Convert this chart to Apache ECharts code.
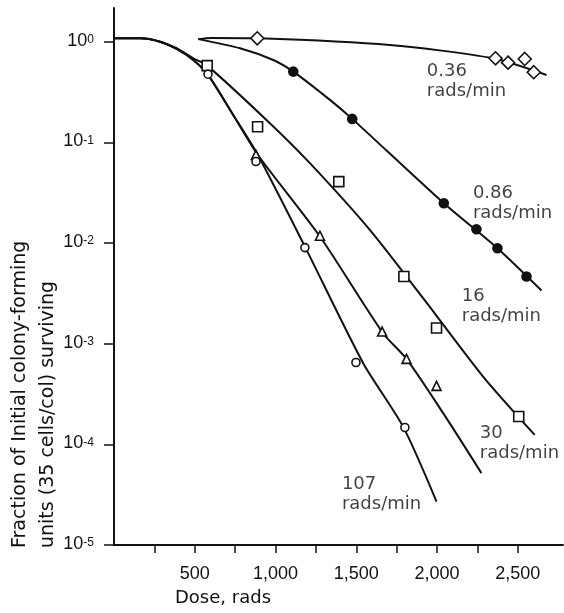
<!DOCTYPE html>
<html><head><meta charset="utf-8">
<script src="https://cdn.jsdelivr.net/npm/echarts@6/dist/echarts.min.js"></script>
<style>html,body{margin:0;padding:0;background:#fff}#c{width:564px;height:613px}</style>
</head><body><div id="c"></div>
<script>
// axis ticks / labels
const xTicks = [250, 500, 750, 1000, 1250, 1500, 1750, 2000, 2250, 2500];
const xLabels = [500, 1000, 1500, 2000, 2500];
const yTicks = [1e-5, 1e-4, 1e-3, 1e-2, 1e-1, 1];

// measured survival points [dose (rads), surviving fraction]
const pts036 = [[887, 1.08], [2362, 0.684], [2440, 0.619], [2543, 0.673], [2599, 0.497]];
const pts086 = [[1110, 0.504], [1475, 0.171], [2042, 0.0248], [2244, 0.0137], [2374, 0.00888], [2554, 0.00464]];
const pts16 = [[577, 0.578], [889, 0.143], [1392, 0.0407], [1795, 0.00464], [1997, 0.00143], [2506, 0.000189]];
const pts30 = [[879, 0.075], [1275, 0.0118], [1660, 0.00132], [1811, 0.000706], [1997, 0.000381]];
const pts107 = [[582, 0.475], [879, 0.0645], [1182, 0.009], [1498, 0.00065], [1801, 0.000147]];

// fitted curves
const fit036 = [[522, 1.06], [600, 1.09], [893, 1.08], [1708, 0.927], [2345, 0.684], [2678, 0.467]];
const fit086 = [[522, 1.06], [780, 0.86], [986, 0.658], [1110, 0.504], [1337, 0.264], [1475, 0.171], [2042, 0.0248], [2374, 0.00888], [2647, 0.00337]];
const fit16 = [[0, 1.08], [161, 1.08], [285, 1.0], [388, 0.86], [491, 0.684], [577, 0.578], [965, 0.155], [1213, 0.0621], [1584, 0.0135], [1914, 0.00283], [2285, 0.000471], [2605, 0.000124]];
const fit30 = [[0, 1.08], [161, 1.08], [285, 1.0], [388, 0.846], [491, 0.658], [582, 0.467], [738, 0.187], [891, 0.0748], [1275, 0.0116], [1666, 0.00127], [1811, 0.000706], [2038, 0.000204], [2275, 0.0000518]];
const fit107 = [[0, 1.08], [161, 1.08], [285, 1.0], [388, 0.846], [491, 0.658], [582, 0.467], [738, 0.187], [891, 0.0748], [1182, 0.0092], [1543, 0.00064], [1790, 0.00015], [1997, 0.000027]];

// dose-rate annotations
const rateNames = ['0.36', '0.86', '16', '30', '107'];
const rateAnchors = [[1937, 0.643], [2222, 0.0391], [2153, 0.00371], [2265, 0.000162], [1411, 0.0000504]];

const FONT = 'DejaVu Sans';
const INK = '#111';

function fitSeries(d) {
  return { type: 'line', data: d, smooth: 0.25, showSymbol: false, symbol: 'none',
    lineStyle: { color: INK, width: 2 }, z: 2, silent: true };
}
function ptSeries(d, symbol, size, fill) {
  return { type: 'scatter', data: d, symbol: symbol, symbolSize: size,
    itemStyle: { color: fill, borderColor: INK, borderWidth: 1.6, opacity: 1 }, z: 5, silent: true };
}

const chart = echarts.init(document.getElementById('c'), null, { renderer: 'canvas' });
chart.setOption({
  animation: false,
  backgroundColor: '#fff',
  grid: { left: 114, right: 1, top: 8, bottom: 68, containLabel: false },
  title: { text: 'Dose, rads', left: 175, top: 589, padding: 0,
    textStyle: { fontFamily: FONT, fontSize: 18, fontWeight: 'normal', color: INK } },
  xAxis: {
    type: 'value', min: 0, max: 2780,
    axisLine: { show: true, onZero: false, lineStyle: { color: INK, width: 2 } },
    axisTick: { show: true, length: 8, lineStyle: { color: INK, width: 1.5 }, customValues: xTicks },
    axisLabel: { customValues: xLabels, margin: 20, color: INK, fontFamily: 'Liberation Sans', fontSize: 18,
      formatter: v => v.toLocaleString('en-US') },
    splitLine: { show: false }
  },
  yAxis: {
    type: 'log', logBase: 10, min: 1e-5, max: 2.16,
    axisLine: { show: true, onZero: false, lineStyle: { color: INK, width: 2 } },
    axisTick: { show: true, length: 10, lineStyle: { color: INK, width: 1.5 }, customValues: yTicks },
    axisLabel: { customValues: yTicks, margin: 20, color: INK,
      formatter: v => '{b|10}{s|' + Math.round(Math.log10(v)) + '}',
      rich: {
        b: { fontFamily: 'Liberation Sans', fontSize: 18, color: INK, verticalAlign: 'bottom', lineHeight: 16 },
        s: { fontFamily: 'Liberation Sans', fontSize: 12, color: INK, verticalAlign: 'top', lineHeight: 10 }
      } },
    splitLine: { show: false }
  },
  graphic: [{
    type: 'text', x: 6, y: 548, rotation: Math.PI / 2,
    style: { text: 'Fraction of Initial colony-forming\nunits (35 cells/col) surviving',
      fontFamily: FONT, fontSize: 19, fill: INK, align: 'left', verticalAlign: 'top', lineHeight: 28 }
  }],
  series: [
    fitSeries(fit036), fitSeries(fit086), fitSeries(fit16), fitSeries(fit30), fitSeries(fit107),
    ptSeries(pts036, 'diamond', 13, '#fff'),
    ptSeries(pts086, 'circle', 9, INK),
    ptSeries(pts16, 'rect', 10, '#fff'),
    ptSeries(pts30, 'triangle', 9, '#fff'),
    ptSeries(pts107, 'circle', 8, '#fff'),
    {
      type: 'scatter', symbolSize: 0, z: 6, silent: true,
      data: rateAnchors.map((p, i) => ({ value: p, name: rateNames[i] })),
      label: { show: true, position: [0, 0], align: 'left', verticalAlign: 'top',
        formatter: p => p.name + '\nrads/min', fontFamily: FONT, fontSize: 18, lineHeight: 20, color: INK }
    }
  ]
});
</script></body></html>
